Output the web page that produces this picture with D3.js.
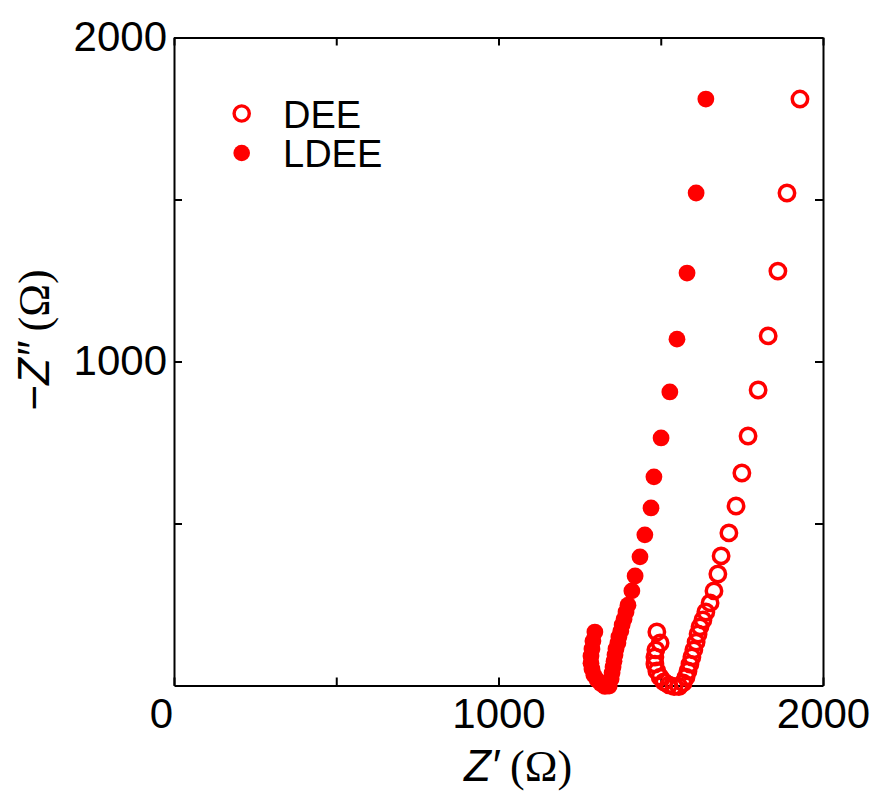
<!DOCTYPE html>
<html>
<head>
<meta charset="utf-8">
<script src="https://cdn.jsdelivr.net/npm/d3@7"></script>
<style>
  body { margin: 0; background: #fff; }
  text { font-family: "Liberation Sans", Arial, sans-serif; }
</style>
</head>
<body>
<script>
// DEE (open circles) – Z' and -Z'' in ohm
var dee_zr = [1488, 1498, 1485, 1482, 1482, 1488, 1498, 1510, 1525, 1541, 1556, 1569, 1578, 1584, 1590, 1596,
              1602, 1609, 1615, 1621, 1630, 1639, 1652, 1664, 1676, 1686, 1710, 1732, 1750, 1769, 1800, 1831,
              1861, 1889, 1929];
var dee_zi = [165, 131, 110, 88, 66, 45, 26, 11, 2, -3, -3, 8, 26, 45, 66, 88,
              110, 134, 159, 181, 202, 227, 255, 292, 344, 400, 471, 554, 656, 770, 912, 1079,
              1279, 1520, 1810];

// LDEE (filled circles)
var ldee_zr = [1297, 1291, 1288, 1285, 1285, 1288, 1294, 1304, 1316, 1328, 1341, 1347, 1350, 1353, 1356, 1359,
               1362, 1368, 1371, 1377, 1381, 1387, 1393, 1399, 1411, 1421, 1436, 1451, 1470, 1479, 1501, 1528,
               1550, 1581, 1609, 1639];
var ldee_zi = [165, 137, 113, 91, 69, 51, 32, 17, 5, -3, -2, 20, 39, 57, 75, 94,
               113, 131, 150, 168, 187, 205, 227, 248, 292, 338, 397, 465, 548, 644, 764, 906,
               1069, 1273, 1520, 1810];

var tick_values = [0, 500, 1000, 1500, 2000];
var labelled_ticks = [0, 1000, 2000];
var legend_names = ["DEE", "LDEE"];

var width = 876, height = 791;
var plot_left = 174, plot_right = 823, plot_top = 37.5, plot_bottom = 685.5;
var red = "#ff0000";

var svg = d3.select("body").append("svg")
    .attr("width", width)
    .attr("height", height);

var x = d3.scaleLinear().domain([0, 2000]).range([plot_left, plot_right]);
var y = d3.scaleLinear().domain([0, 2000]).range([plot_bottom, plot_top]);

function label_fmt(d) {
  return labelled_ticks.indexOf(d) >= 0 ? d : "";
}

// axes, ticks pointing inward
var xb = svg.append("g").attr("transform", "translate(0," + plot_bottom + ")")
    .call(d3.axisBottom(x).tickValues(tick_values).tickSizeInner(-8).tickSizeOuter(0).tickPadding(14).tickFormat(label_fmt));
var xt = svg.append("g").attr("transform", "translate(0," + plot_top + ")")
    .call(d3.axisTop(x).tickValues(tick_values).tickSizeInner(-8).tickSizeOuter(0).tickFormat(""));
var yl = svg.append("g").attr("transform", "translate(" + plot_left + ",0)")
    .call(d3.axisLeft(y).tickValues(tick_values.slice(1)).tickSizeInner(-8).tickSizeOuter(0).tickPadding(7).tickFormat(label_fmt));
var yr = svg.append("g").attr("transform", "translate(" + plot_right + ",0)")
    .call(d3.axisRight(y).tickValues(tick_values).tickSizeInner(-8).tickSizeOuter(0).tickFormat(""));

svg.selectAll(".domain, .tick line").attr("stroke", "#000").attr("stroke-width", 2);
svg.selectAll(".tick text")
    .attr("font-family", "'Liberation Sans', Arial, sans-serif")
    .attr("font-size", 42)
    .attr("fill", "#000");
// the shared origin label sits a little left of the corner
xb.selectAll(".tick text").filter(function (d) { return d === 0; }).attr("dx", -13);
xb.selectAll(".tick text").attr("dy", "0.68em");

// data
var dee = dee_zr.map(function (d, i) { return [d, dee_zi[i]]; });
var ldee = ldee_zr.map(function (d, i) { return [d, ldee_zi[i]]; });

svg.append("g").selectAll("circle")
    .data(ldee).enter().append("circle")
    .attr("cx", function (d) { return x(d[0]); })
    .attr("cy", function (d) { return y(d[1]); })
    .attr("r", 8.4)
    .attr("fill", red);

svg.append("g").selectAll("circle")
    .data(dee).enter().append("circle")
    .attr("cx", function (d) { return x(d[0]); })
    .attr("cy", function (d) { return y(d[1]); })
    .attr("r", 7.7)
    .attr("fill", "none")
    .attr("stroke", red)
    .attr("stroke-width", 3.5);

// legend
var lg = svg.append("g");
lg.append("circle").attr("cx", 241.7).attr("cy", 113.5).attr("r", 7.6)
    .attr("fill", "none").attr("stroke", red).attr("stroke-width", 3.4);
lg.append("circle").attr("cx", 241.7).attr("cy", 153).attr("r", 8.3).attr("fill", red);
lg.selectAll("text").data(legend_names).enter().append("text")
    .attr("x", 283)
    .attr("y", function (d, i) { return 127.5 + i * 39.5; })
    .attr("font-size", 38)
    .text(function (d) { return d; });

// axis titles
var xt_text = svg.append("text")
    .attr("x", 518).attr("y", 781)
    .attr("text-anchor", "middle")
    .attr("font-size", 44);
xt_text.append("tspan").attr("font-style", "italic").text("Z\u2032");
xt_text.append("tspan").attr("font-family", "'Liberation Serif', 'Times New Roman', serif").text(" (\u03A9)");

var yt_text = svg.append("text")
    .attr("transform", "translate(49,340) rotate(-90)")
    .attr("text-anchor", "middle")
    .attr("font-size", 44);
yt_text.append("tspan").text("\u2212");
yt_text.append("tspan").attr("font-style", "italic").text("Z\u2033");
yt_text.append("tspan").attr("font-family", "'Liberation Serif', 'Times New Roman', serif").text(" (\u03A9)");
</script>
</body>
</html>
